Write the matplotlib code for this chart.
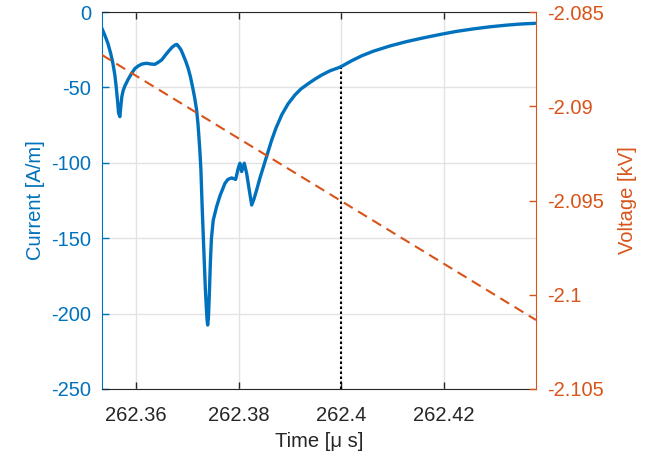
import matplotlib
matplotlib.use("Agg")
import matplotlib.pyplot as plt

plt.rcParams['font.family'] = ['Liberation Sans', 'DejaVu Sans']
plt.rcParams['axes.unicode_minus'] = False

# Current trace (time in microseconds, current in A/m)
time_us = [262.35338, 262.35396, 262.35455, 262.35513, 262.35552, 262.35591,
           262.35616, 262.35640, 262.35663, 262.35688, 262.35708, 262.35727,
           262.35753, 262.35786, 262.35844, 262.35916, 262.35981, 262.36045,
           262.36117, 262.36208, 262.36292, 262.36370, 262.36429, 262.36501,
           262.36565, 262.36629, 262.36701, 262.36760, 262.36799, 262.36824,
           262.36877, 262.36921, 262.36974, 262.37019, 262.37062, 262.37105,
           262.37145, 262.37182, 262.37208, 262.37227, 262.37247, 262.37266,
           262.37292, 262.37325, 262.37354, 262.37383, 262.37397, 262.37412,
           262.37432, 262.37451, 262.37471, 262.37506, 262.37572, 262.37636,
           262.37734, 262.37792, 262.37864, 262.37942, 262.37993, 262.38026,
           262.38059, 262.38110, 262.38156, 262.38207, 262.38254, 262.38299,
           262.38351, 262.38416, 262.38513, 262.38643, 262.38727, 262.38838,
           262.38961, 262.39097, 262.39214, 262.39356, 262.39487, 262.39617,
           262.39779, 262.39941, 262.40007, 262.40202, 262.40400, 262.40623,
           262.40948, 262.41273, 262.41591, 262.41922, 262.42234, 262.42571,
           262.42896, 262.43221, 262.43480, 262.43773]
current = [-10.8, -15.5, -20.8, -28.0, -34.0, -42.0,
           -49.5, -58.0, -67.0, -69.4, -62.0, -56.0,
           -52.0, -49.0, -45.0, -40.7, -37.5, -35.8,
           -34.5, -34.0, -34.5, -34.7, -33.5, -31.8,
           -29.0, -26.3, -23.5, -21.9, -21.5, -22.5,
           -25.0, -28.5, -33.0, -37.5, -43.0, -50.0,
           -57.0, -65.0, -74.0, -82.7, -93.0, -104.8,
           -131.0, -160.0, -185.0, -203.0, -207.6, -203.0,
           -185.0, -165.0, -150.0, -138.0, -129.0, -122.0,
           -113.6, -111.0, -110.0, -111.0, -103.6, -100.3,
           -105.8, -100.3, -107.0, -118.0, -128.0, -124.0,
           -118.0, -110.0, -99.3, -85.0, -77.0, -68.3,
           -61.0, -55.0, -51.0, -47.5, -44.5, -41.8,
           -39.0, -37.0, -36.0, -32.3, -29.0, -26.0,
           -22.5, -19.6, -17.2, -14.9, -12.9, -11.2,
           -9.8, -8.7, -8.0, -7.5]

# Voltage trace (kV)
volt_time = [262.3534, 262.4379]
voltage = [-2.08728, -2.10134]

marker_time = 262.4
marker_current = -36.0

xticks = [262.36, 262.38, 262.40, 262.42]
xticklabels = ['262.36', '262.38', '262.4', '262.42']
yticks_left = [0, -50, -100, -150, -200, -250]
yticks_right = [-2.085, -2.09, -2.095, -2.1, -2.105]
yticklabels_right = ['-2.085', '-2.09', '-2.095', '-2.1', '-2.105']

blue = '#0072BD'
orange = '#D95319'
dark = '#262626'
fs = 14.5

fig = plt.figure(figsize=(6.56, 4.59), dpi=100)
ax = fig.add_axes([102/656, 1-389/459, (536-102)/656, (389-12)/459])
ax2 = ax.twinx()

ax.plot(time_us, current, color=blue, lw=2.4, solid_joinstyle='round',
        solid_capstyle='round', zorder=3)
ax.plot([marker_time, marker_time], [-250, marker_current], color='black',
        lw=1.5, linestyle=(0, (1.2, 1.2)), zorder=2)
ax2.plot(volt_time, voltage, color=orange, lw=1.5, linestyle=(0, (5, 3)))

ax.set_xlim(262.3534, 262.4379)
ax.set_ylim(-250, 0)
ax2.set_ylim(-2.105, -2.085)

ax.set_xticks(xticks)
ax.set_xticklabels(xticklabels)
ax.set_yticks(yticks_left)
ax2.set_yticks(yticks_right)
ax2.set_yticklabels(yticklabels_right)

ax.grid(True, color='#e3e3e3', lw=1.0)
ax.set_axisbelow(True)

ax.tick_params(axis='x', direction='in', top=True, length=5, colors=dark,
               labelsize=fs, pad=12.5, width=1.0)
ax.tick_params(axis='y', direction='in', length=5, colors=blue, labelsize=fs,
               pad=8, width=1.0)
ax2.tick_params(axis='y', direction='in', length=5, colors=orange,
                labelsize=fs, pad=8, width=1.0)

for s in ['top', 'bottom']:
    ax.spines[s].set_color(dark)
ax.spines['left'].set_color(blue)
ax2.spines['left'].set_visible(False)
ax2.spines['top'].set_visible(False)
ax2.spines['bottom'].set_visible(False)
ax.spines['right'].set_visible(False)
ax2.spines['right'].set_color(orange)

ax.set_xlabel('Time [\u03bc s]', fontsize=fs, color=dark, labelpad=5)
ax.set_ylabel('Current [A/m]', fontsize=fs, color=blue, labelpad=4)
ax2.set_ylabel('Voltage [kV]', fontsize=fs, color=orange, labelpad=10)

fig.savefig('out.png', dpi=100)
